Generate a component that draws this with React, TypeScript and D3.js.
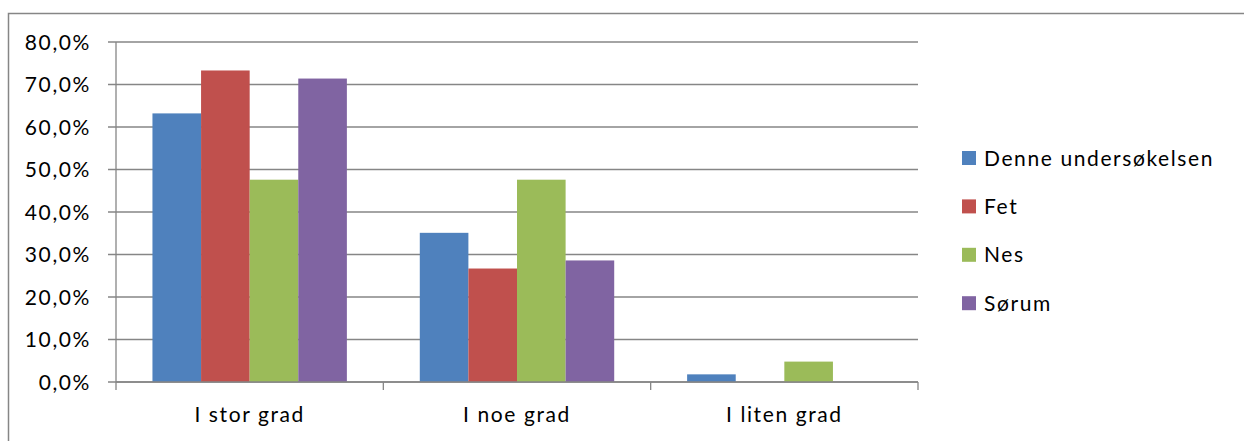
import * as d3 from 'd3';

const categories = ['I stor grad', 'I noe grad', 'I liten grad'];
const seriesNames = ['Denne undersøkelsen', 'Fet', 'Nes', 'Sørum'];
const seriesColors = ['#4f81bd', '#c0504d', '#9bbb59', '#8064a2'];
const denneValues = [63.2, 35.1, 1.8];
const fetValues = [73.3, 26.7, 0];
const nesValues = [47.6, 47.6, 4.8];
const sorumValues = [71.4, 28.6, 0];
const yTicks = [0, 10, 20, 30, 40, 50, 60, 70, 80];

const seriesValues = [denneValues, fetValues, nesValues, sorumValues];

const width = 1244;
const height = 441;
const plot = { left: 116, right: 918, top: 42, bottom: 382 };
const font = 'Lato, "Noto Sans", sans-serif';
const fontSize = 21;
const spacing = 1.6;
const gridColor = '#868686';

export default function App() {
  const xScale = d3.scaleBand().domain(categories).range([plot.left, plot.right]);
  const innerScale = d3
    .scaleBand()
    .domain(seriesNames)
    .range([0, xScale.bandwidth()])
    .paddingOuter(0.75);
  const yScale = d3.scaleLinear().domain([0, 80]).range([plot.bottom, plot.top]);

  const textProps = {
    fontFamily: font,
    fontSize,
    letterSpacing: spacing,
    fill: '#000'
  };

  return (
    <svg
      width={width}
      height={height}
      style={{ position: 'absolute', left: 0, top: 0, background: '#fff' }}
    >
      <path d={`M8.5,${height} V13.5 H${width}`} fill="none" stroke={gridColor} strokeWidth={1.5} />

      {yTicks.map((t) => (
        <g key={t}>
          <line
            x1={plot.left - 8}
            x2={plot.right}
            y1={yScale(t)}
            y2={yScale(t)}
            stroke={gridColor}
            strokeWidth={1.3}
          />
          <text x={91} y={yScale(t)} dy="0.36em" textAnchor="end" {...textProps}>
            {t.toFixed(1).replace('.', ',')}%
          </text>
        </g>
      ))}
      <line x1={plot.left} x2={plot.left} y1={plot.top} y2={plot.bottom} stroke={gridColor} strokeWidth={1.3} />

      {seriesNames.map((name, si) => (
        <g key={name} fill={seriesColors[si]}>
          {categories.map((cat, ci) => {
            const v = seriesValues[si][ci];
            if (v <= 0) return null;
            return (
              <rect
                key={cat}
                x={xScale(cat)! + innerScale(name)!}
                width={innerScale.bandwidth()}
                y={yScale(v)}
                height={yScale(0) - yScale(v)}
              />
            );
          })}
        </g>
      ))}

      <line x1={plot.left} x2={plot.right} y1={plot.bottom} y2={plot.bottom} stroke={gridColor} strokeWidth={1.3} />
      {[...categories.map((c) => xScale(c)!), plot.right].map((x, i) => (
        <line key={i} x1={x} x2={x} y1={plot.bottom} y2={plot.bottom + 8} stroke={gridColor} strokeWidth={1.3} />
      ))}
      {categories.map((cat) => (
        <text
          key={cat}
          x={xScale(cat)! + xScale.bandwidth() / 2}
          y={422}
          textAnchor="middle"
          {...textProps}
        >
          {cat}
        </text>
      ))}

      {seriesNames.map((name, i) => (
        <g key={name} transform={`translate(962, ${158 + i * 48.4})`}>
          <rect x={0} y={-7} width={14} height={14} fill={seriesColors[i]} />
          <text x={22} y={0} dy="0.36em" {...textProps}>
            {name}
          </text>
        </g>
      ))}
    </svg>
  );
}
